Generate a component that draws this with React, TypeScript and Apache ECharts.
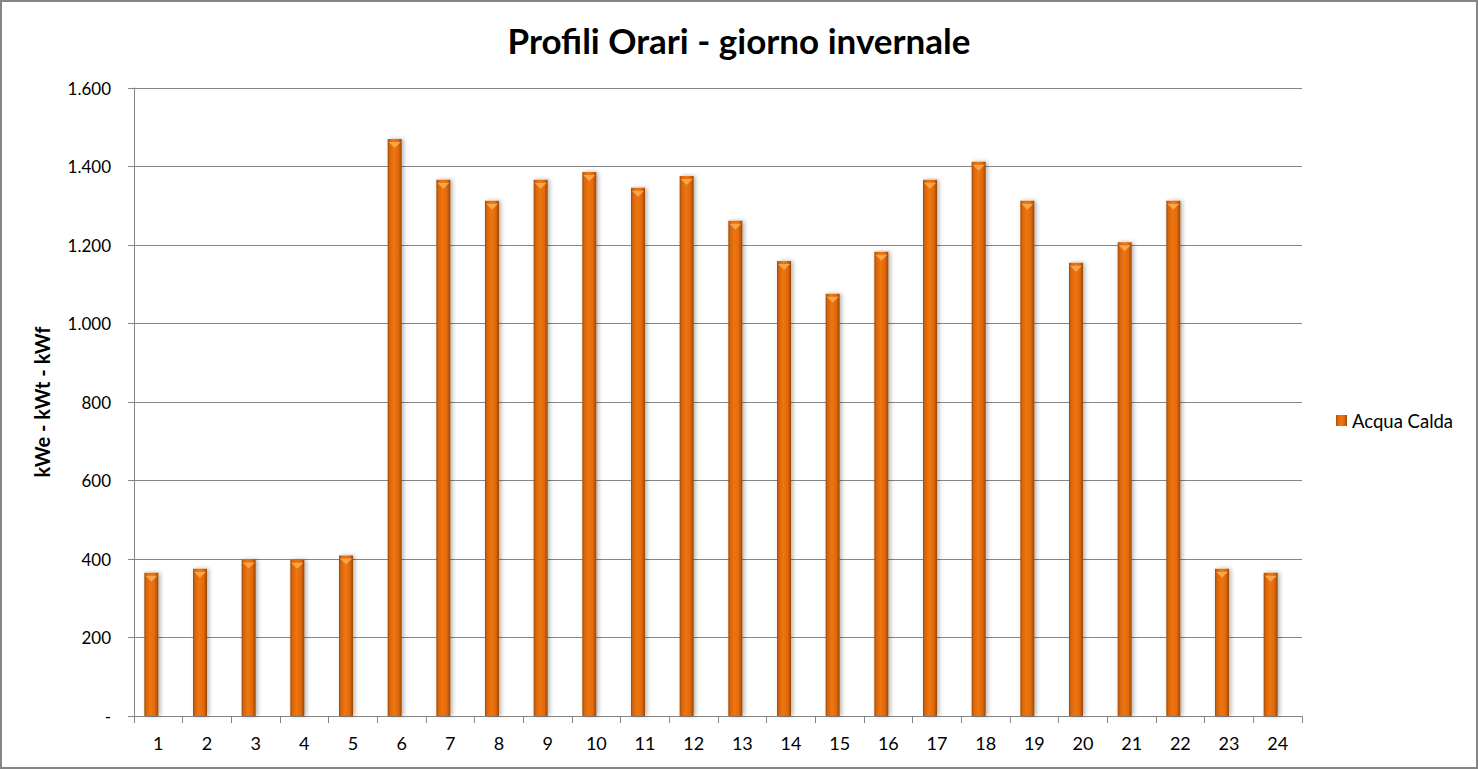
import React, { useEffect, useRef } from "react";
import * as echarts from "echarts";

const hours = ["1","2","3","4","5","6","7","8","9","10","11","12","13","14","15","16","17","18","19","20","21","22","23","24"];
const acquaCalda = [365, 375, 399, 398, 409, 1470, 1366, 1313, 1366, 1386, 1346, 1376, 1262, 1159, 1076, 1183, 1366, 1412, 1313, 1155, 1207, 1313, 375, 365];
const seriesName = "Acqua Calda";
const titleText = "Profili Orari - giorno invernale";
const yAxisName = "kWe - kWt - kWf";

const fmt = (v: number) => {
  if (v === 0) return "-";
  const s = String(Math.round(v));
  return s.replace(/\B(?=(\d{3})+(?!\d))/g, ".");
};

export default function App() {
  const ref = useRef<HTMLDivElement>(null);
  useEffect(() => {
    document.body.style.margin = "0";
    const chart = echarts.init(ref.current!, null, { renderer: "svg" });
    const font = "Lato, 'Open Sans', sans-serif";
    const barGrad = new echarts.graphic.LinearGradient(0, 0, 1, 0, [
      { offset: 0, color: "#9E4A06" },
      { offset: 0.15, color: "#D9660A" },
      { offset: 0.45, color: "#EE760E" },
      { offset: 0.75, color: "#E2690A" },
      { offset: 1, color: "#9A4705" },
    ]);
    chart.setOption({
      animation: false,
      backgroundColor: "#fff",
      textStyle: { fontFamily: font },
      title: {
        text: titleText,
        left: "center",
        top: 17,
        textStyle: { fontSize: 35, fontWeight: "bold", color: "#000", fontFamily: font },
      },
      graphic: [
        {
          type: "rect",
          shape: { x: 1, y: 1, width: 1476, height: 767 },
          style: { fill: "none", stroke: "#868686", lineWidth: 2 },
          silent: true,
        },
      ],
      legend: {
        data: [seriesName],
        left: 1331,
        top: 406,
        orient: "vertical",
        icon: "rect",
        itemWidth: 11,
        itemHeight: 11,
        itemGap: 6,
        textStyle: { fontSize: 18.5, color: "#000", fontFamily: font },
      },
      grid: { left: 134, right: 176, top: 88, bottom: 53 },
      xAxis: {
        type: "category",
        data: hours,
        boundaryGap: true,
        axisLine: { lineStyle: { color: "#868686", width: 1 } },
        axisTick: { show: true, alignWithLabel: false, length: 7, lineStyle: { color: "#868686" } },
        axisLabel: { color: "#000", fontSize: 18, margin: 18, fontFamily: font },
      },
      yAxis: {
        type: "value",
        min: 0,
        max: 1600,
        interval: 200,
        name: yAxisName,
        nameLocation: "middle",
        nameGap: 82,
        nameTextStyle: { fontSize: 20, fontWeight: "bold", color: "#000", fontFamily: font },
        axisLine: { show: true, lineStyle: { color: "#868686" } },
        axisTick: { show: true, length: 6, lineStyle: { color: "#868686" } },
        axisLabel: { color: "#000", fontSize: 17, margin: 23, formatter: fmt, fontFamily: font },
        splitLine: { show: true, lineStyle: { color: "#868686", width: 1 } },
      },
      series: [
        {
          name: seriesName,
          type: "bar",
          data: acquaCalda,
          barWidth: 14,
          barGap: "0%",
          itemStyle: {
            color: barGrad,
            shadowBlur: 4,
            shadowColor: "rgba(0,0,0,0.3)",
            shadowOffsetX: 2,
            shadowOffsetY: 0,
          },
        },
        {
          name: "empty",
          type: "bar",
          data: [],
          barWidth: 14,
          barGap: "0%",
        },
        {
          name: "cap",
          type: "pictorialBar",
          data: acquaCalda,
          symbol: "path://M0,0 L10,0 L5,5 Z",
          symbolSize: [12, 6],
          symbolPosition: "end",
          symbolOffset: [-7, "50%"],
          itemStyle: { color: "#F9A54A" },
          silent: true,
          z: 3,
        },
      ],
    });
    return () => chart.dispose();
  }, []);
  return <div ref={ref} style={{ width: 1478, height: 769 }} />;
}
